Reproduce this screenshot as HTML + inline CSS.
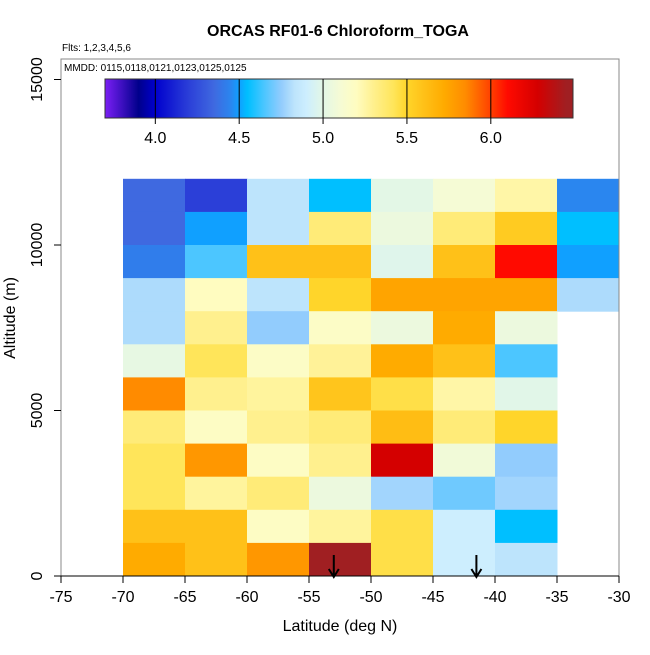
<!DOCTYPE html>
<html><head><meta charset="utf-8"><style>
body{margin:0;background:#fff;font-family:"Liberation Sans",sans-serif;}
</style></head><body>
<svg id="chart" width="650" height="650" xmlns="http://www.w3.org/2000/svg" font-family="Liberation Sans, sans-serif">
<defs><linearGradient id="cbg" x1="0" x2="1" y1="0" y2="0"></linearGradient></defs>
<text x="338" y="36" text-anchor="middle" font-size="16" font-weight="bold">ORCAS RF01-6 Chloroform_TOGA</text>
<text x="62" y="51" font-size="10">Flts: 1,2,3,4,5,6</text>
<g id="cells"></g>
<g id="arrows"></g>
<rect x="61" y="59" width="558" height="517" fill="none" stroke="#888" stroke-width="1"/>
<text x="64" y="71" font-size="10">MMDD: 0115,0118,0121,0123,0125,0125</text>
<rect id="cbar" x="105" y="79" width="468" height="39" fill="url(#cbg)" stroke="#333" stroke-width="1"/>
<g id="cbticks"></g>
<g id="xaxis"></g>
<g id="yaxis"></g>
<text x="340" y="631" text-anchor="middle" font-size="16">Latitude (deg N)</text>
<text transform="translate(15,318) rotate(-90)" text-anchor="middle" font-size="16">Altitude (m)</text>
</svg>
<script>
const latBins=[-70,-65,-60,-55,-50,-45,-40,-35];
const altBins=[11000,10000,9000,8000,7000,6000,5000,4000,3000,2000,1000,0];
const cellValues=[
[4.35,4.2,4.83,4.55,5.0,5.1,5.25,4.45],
[4.35,4.5,4.83,5.35,5.05,5.35,5.55,4.55],
[4.42,4.65,5.6,5.6,4.98,5.6,6.1,4.5],
[4.8,5.2,4.83,5.5,5.75,5.75,5.75,4.8],
[4.8,5.3,4.75,5.17,5.05,5.72,5.05,null],
[5.02,5.42,5.17,5.28,5.72,5.6,4.65,null],
[5.85,5.3,5.27,5.58,5.45,5.25,4.99,null],
[5.35,5.18,5.3,5.35,5.62,5.35,5.5,null],
[5.42,5.8,5.18,5.3,6.28,5.08,4.75,null],
[5.42,5.27,5.35,5.05,4.78,4.7,4.78,null],
[5.6,5.6,5.18,5.27,5.45,4.9,4.55,null],
[5.72,5.6,5.8,6.45,5.45,4.9,4.83,null]];
const arrowLats=[-53,-41.5];
const xTicks=[-75,-70,-65,-60,-55,-50,-45,-40,-35,-30];
const yTicks=[0,5000,10000,15000];
const cbTicks=[4.0,4.5,5.0,5.5,6.0];
const stopV=[3.7,3.9,4.0,4.2,4.35,4.45,4.5,4.55,4.65,4.75,4.83,4.9,5.0,5.1,5.2,5.3,5.42,5.5,5.6,5.72,5.85,6.0,6.1,6.28,6.45];
const stopC=["#7b1ff5","#00008b","#0000cd","#2b3fd8","#3f69e0","#2a86ef","#10a0ff","#00bfff","#4cc6ff","#92ccfd","#bde4fc","#cdeefe","#e3f7e6","#f5fbd5","#fffcc0","#fff08e","#ffe55a","#ffd52a","#ffc118","#ffab00","#ff8b00","#ff4000","#ff0a00","#d40000","#a01f22"];
const NS="http://www.w3.org/2000/svg";
const xs=v=>61+(v+75)*558/45;
const ys=v=>576-v*0.0331;
const cs=v=>105+(v-3.7)*468/2.79;
function hx(c){return [1,3,5].map(i=>parseInt(c.substr(i,2),16));}
function col(v){
 if(v<=stopV[0])return stopC[0];
 for(let i=1;i<stopV.length;i++){if(v<=stopV[i]){const t=(v-stopV[i-1])/(stopV[i]-stopV[i-1]);const a=hx(stopC[i-1]),b=hx(stopC[i]);return "rgb("+a.map((x,k)=>Math.round(x+(b[k]-x)*t)).join(",")+")";}}
 return stopC[stopC.length-1];}
function mk(t,a,p){const e=document.createElementNS(NS,t);for(const k in a)e.setAttribute(k,a[k]);p.appendChild(e);return e;}
const g=document.getElementById('cbg');
stopV.forEach((v,i)=>{const s=mk('stop',{offset:((v-3.7)/2.79).toFixed(4),'stop-color':stopC[i]},g);

});
const cells=document.getElementById('cells');
altBins.forEach((a,r)=>latBins.forEach((l,c)=>{const v=cellValues[r][c];if(v==null)return;
const x0=xs(l),x1=xs(l+5),y0=ys(a+1000),y1=ys(a);
const e=mk('rect',{x:x0,y:y0,width:x1-x0+0.5,height:y1-y0+0.5,fill:col(v)},cells);

}));
const ar=document.getElementById('arrows');
arrowLats.forEach(l=>{const x=xs(l);
const e=mk('path',{d:`M${x},555 L${x},577 M${x-5},569 L${x},577 L${x+5},569`,stroke:'#000','stroke-width':2,fill:'none'},ar);

});
const cb=document.getElementById('cbticks');
cbTicks.forEach(v=>{const x=cs(v);
const l=mk('line',{x1:x,x2:x,y1:79,y2:124,stroke:'#000','stroke-width':1},cb);


const t=mk('text',{x:x,y:143,'text-anchor':'middle','font-size':16},cb);t.textContent=v.toFixed(1);

});
const xa=document.getElementById('xaxis');
const xl=mk('line',{x1:61,x2:619,y1:576,y2:576,stroke:'#000'},xa);


xTicks.forEach(v=>{const x=xs(v);
const l=mk('line',{x1:x,x2:x,y1:576,y2:583,stroke:'#000'},xa);


const t=mk('text',{x:x,y:602,'text-anchor':'middle','font-size':16},xa);t.textContent=v;

});
const ya=document.getElementById('yaxis');
yTicks.forEach(v=>{const y=ys(v);
const l=mk('line',{x1:54,x2:61,y1:y,y2:y,stroke:'#000'},ya);


const t=mk('text',{transform:`translate(42,${y}) rotate(-90)`,'text-anchor':'middle','font-size':16},ya);t.textContent=v;

});
</script>
</body></html>
